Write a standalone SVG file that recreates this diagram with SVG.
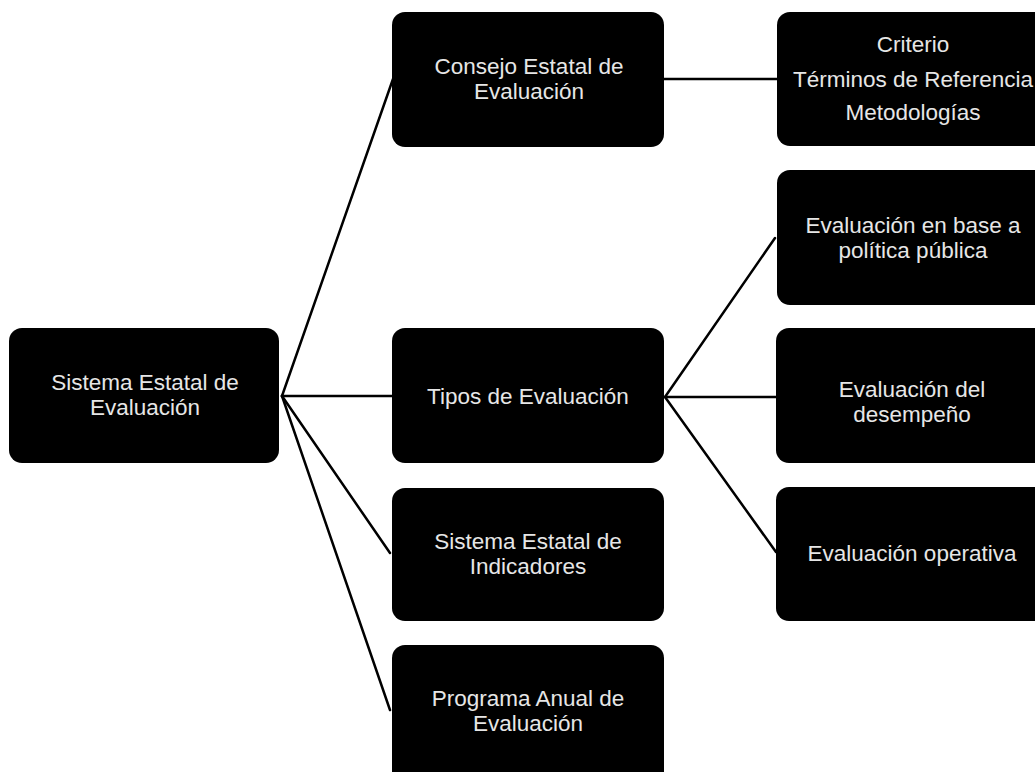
<svg xmlns="http://www.w3.org/2000/svg" width="1035" height="772" viewBox="0 0 1035 772">
<style>
.box{fill:#000;}
.lbl{font-family:"Liberation Sans",Arial,sans-serif;font-size:22.5px;fill:#e6e6e6;text-anchor:middle;}
.edge{stroke:#000;stroke-width:2.5;fill:none;stroke-linecap:round;}
</style>
<rect width="1035" height="772" fill="#fff"/>
<g id="connectors">
<line class="edge" x1="282" y1="396" x2="393" y2="79"/>
<line class="edge" x1="282" y1="396" x2="393" y2="396"/>
<line class="edge" x1="282" y1="396" x2="390" y2="553"/>
<line class="edge" x1="282" y1="396" x2="390" y2="710"/>
<line class="edge" x1="664" y1="79" x2="777" y2="79"/>
<line class="edge" x1="665" y1="397" x2="775" y2="238"/>
<line class="edge" x1="665" y1="397" x2="777" y2="397"/>
<line class="edge" x1="665" y1="397" x2="776" y2="552"/>
</g>
<g id="root">
<rect class="box" x="9" y="328" width="270" height="135" rx="13"/>
<text class="lbl" x="145" y="390">Sistema Estatal de</text>
<text class="lbl" x="145" y="415">Evaluación</text>
</g>
<g id="consejo">
<rect class="box" x="392" y="12" width="272" height="135" rx="13"/>
<text class="lbl" x="529" y="74">Consejo Estatal de</text>
<text class="lbl" x="529" y="99">Evaluación</text>
</g>
<g id="tipos">
<rect class="box" x="392" y="328" width="272" height="135" rx="13"/>
<text class="lbl" x="528" y="404">Tipos de Evaluación</text>
</g>
<g id="indicadores">
<rect class="box" x="392" y="488" width="272" height="133" rx="13"/>
<text class="lbl" x="528" y="549">Sistema Estatal de</text>
<text class="lbl" x="528" y="574">Indicadores</text>
</g>
<g id="programa">
<rect class="box" x="392" y="645" width="272" height="140" rx="13"/>
<text class="lbl" x="528" y="706">Programa Anual de</text>
<text class="lbl" x="528" y="731">Evaluación</text>
</g>
<g id="criterio">
<rect class="box" x="777" y="12" width="272" height="134" rx="13"/>
<text class="lbl" x="913" y="52">Criterio</text>
<text class="lbl" x="913" y="87">Términos de Referencia</text>
<text class="lbl" x="913" y="120">Metodologías</text>
</g>
<g id="politica">
<rect class="box" x="777" y="170" width="272" height="135" rx="13"/>
<text class="lbl" x="913" y="233">Evaluación en base a</text>
<text class="lbl" x="913" y="258">política pública</text>
</g>
<g id="desempeno">
<rect class="box" x="776" y="328" width="272" height="135" rx="13"/>
<text class="lbl" x="912" y="397">Evaluación del</text>
<text class="lbl" x="912" y="422">desempeño</text>
</g>
<g id="operativa">
<rect class="box" x="776" y="487" width="272" height="134" rx="13"/>
<text class="lbl" x="912" y="561">Evaluación operativa</text>
</g>
</svg>
